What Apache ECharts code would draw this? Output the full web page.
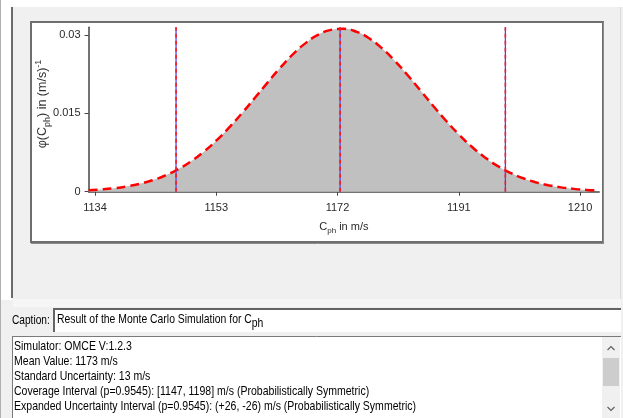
<!DOCTYPE html>
<html><head><meta charset="utf-8">
<script src="https://cdn.jsdelivr.net/npm/echarts@6/dist/echarts.min.js"></script>
<style>html,body{margin:0;padding:0;background:#f0f0f0}#c{width:623px;height:418px}</style>
</head><body><div id="c"></div>
<script>
// ---- data ----
const cphValues = [1133,1135,1137,1139,1141,1143,1145,1147,1149,1151,1153,1155,1157,1159,1161,1163,1165,1167,1169,1171,1173,1175,1177,1179,1181,1183,1185,1187,1189,1191,1193,1195,1197,1199,1201,1203,1205,1207,1209,1211,1212.5];
const density = [0.00027,0.00043,0.00067,0.00102,0.00151,0.00219,0.00310,0.00429,0.00578,0.00761,0.00978,0.01226,0.01499,0.01789,0.02084,0.02369,0.02628,0.02845,0.03006,0.03099,0.03118,0.03061,0.02933,0.02742,0.02503,0.02229,0.01937,0.01642,0.01359,0.01098,0.00865,0.00665,0.00499,0.00366,0.00262,0.00182,0.00124,0.00083,0.00054,0.00034,0.00026];
const intervalLines = [1146.7, 1172.4, 1198.3];
const xTicks = [1134, 1153, 1172, 1191, 1210];
const yTicks = [0, 0.015, 0.03];
const xRange = [1133, 1213];
const yRange = [0, 0.0315];
const xTitle = ['C', 'ph', ' in m/s'];
const yTitle = ['φ(C', 'ph', ') in (m/s)', '-1'];
const captionText = 'Result of the Monte Carlo Simulation for C';
const captionSub = 'ph';
const infoLines = [
  'Simulator: OMCE V:1.2.3',
  'Mean Value: 1173 m/s',
  'Standard Uncertainty: 13 m/s',
  'Coverage Interval (p=0.9545): [1147, 1198] m/s (Probabilistically Symmetric)',
  'Expanded Uncertainty Interval (p=0.9545): (+26, -26) m/s (Probabilistically Symmetric)'
];

const FONT = '"Liberation Sans", Arial, sans-serif';
const chart = echarts.init(document.getElementById('c'), null, {renderer: 'canvas'});

const curve = cphValues.map((x, i) => [x, density[i]]);
const lineSeries = [];
intervalLines.forEach(v => {
  const pts = [[v, yRange[0]], [v, yRange[1]]];
  lineSeries.push({type: 'line', data: pts, symbol: 'none', silent: true, z: 5,
    lineStyle: {color: '#4040ff', width: 1.2}});
  lineSeries.push({type: 'line', data: pts, symbol: 'none', silent: true, z: 6,
    lineStyle: {color: '#ff1a1a', width: 1.6, type: [4, 3]}});
});

const graphics = [
  // window chrome
  {type: 'rect', z: -20, shape: {x: 0, y: 0, width: 623, height: 7}, style: {fill: '#ffffff'}},
  {type: 'rect', z: -20, shape: {x: 0, y: 0, width: 12, height: 300}, style: {fill: '#ffffff'}},
  {type: 'line', z: -19, shape: {x1: 0.5, y1: 0, x2: 0.5, y2: 418}, style: {stroke: '#b0b0b0', lineWidth: 1}},
  {type: 'line', z: -19, shape: {x1: 12, y1: 7, x2: 12, y2: 298}, style: {stroke: '#6a6a6a', lineWidth: 2}},
  {type: 'line', z: -19, shape: {x1: 620.5, y1: 7, x2: 620.5, y2: 300}, style: {stroke: '#dcdcdc', lineWidth: 1}},
  {type: 'rect', z: -19, shape: {x: 13, y: 299, width: 608, height: 8}, style: {fill: '#f6f6f6'}},
  // plot box
  {type: 'rect', z: -10, shape: {x: 31, y: 22, width: 572, height: 220}, style: {fill: '#ffffff', stroke: '#6e6e6e', lineWidth: 2}},
  {type: 'line', z: -9, shape: {x1: 603.5, y1: 22, x2: 603.5, y2: 243}, style: {stroke: '#8a8a8a', lineWidth: 1}},
  {type: 'line', z: -9, shape: {x1: 31, y1: 243.5, x2: 604, y2: 243.5}, style: {stroke: '#8a8a8a', lineWidth: 1}},
  // y axis title (rotated)
  {type: 'text', z: 10, x: 43, y: 104, rotation: Math.PI / 2,
    style: {text: '{n|' + yTitle[0] + '}{s|' + yTitle[1] + '}{n|' + yTitle[2] + '}{p|' + yTitle[3] + '}',
      align: 'center', verticalAlign: 'middle', fill: '#333',
      rich: {n: {fontSize: 12.5, fontFamily: FONT, fill: '#333', lineHeight: 18, verticalAlign: 'middle'},
             s: {fontSize: 9, fontFamily: FONT, fill: '#333', lineHeight: 18, verticalAlign: 'bottom'},
             p: {fontSize: 9, fontFamily: FONT, fill: '#333', lineHeight: 18, verticalAlign: 'top'}}}},
  // caption
  {type: 'text', z: 1, x: 12, y: 320, scaleX: 0.78, originX: 0, style: {text: 'Caption:', font: '13px ' + FONT, fill: '#000', verticalAlign: 'middle'}},
  {type: 'rect', z: -5, shape: {x: 53, y: 308, width: 568, height: 24}, style: {fill: '#ffffff'}},
  {type: 'line', z: -4, shape: {x1: 53, y1: 309, x2: 621, y2: 309}, style: {stroke: '#646464', lineWidth: 2}},
  {type: 'line', z: -4, shape: {x1: 54, y1: 308, x2: 54, y2: 332}, style: {stroke: '#646464', lineWidth: 2}},
  {type: 'text', z: 1, x: 57, y: 319, scaleX: 0.8, originX: 0,
    style: {text: '{n|' + captionText + '}{s|' + captionSub + '}', verticalAlign: 'middle', fill: '#000',
      rich: {n: {fontSize: 13, fontFamily: FONT, fill: '#000', lineHeight: 22, verticalAlign: 'middle'},
             s: {fontSize: 13, fontFamily: FONT, fill: '#000', lineHeight: 22, verticalAlign: 'bottom'}}}},
  // info text box
  {type: 'rect', z: -5, shape: {x: 12, y: 336, width: 609, height: 82}, style: {fill: '#ffffff'}},
  {type: 'line', z: -4, shape: {x1: 12, y1: 336.5, x2: 621, y2: 336.5}, style: {stroke: '#7a7a7a', lineWidth: 1}},
  {type: 'line', z: -4, shape: {x1: 12.5, y1: 336, x2: 12.5, y2: 418}, style: {stroke: '#7a7a7a', lineWidth: 1}},
  // scrollbar
  {type: 'rect', z: -4, shape: {x: 602, y: 337, width: 18, height: 81}, style: {fill: '#f0f0f0'}},
  {type: 'rect', z: -3, shape: {x: 603, y: 358, width: 16, height: 28}, style: {fill: '#cdcdcd'}},
  {type: 'polyline', z: -3, shape: {points: [[607.5, 350], [611, 346.5], [614.5, 350]]}, style: {stroke: '#606060', lineWidth: 1.2, fill: null}},
  {type: 'polyline', z: -3, shape: {points: [[607.5, 407], [611, 410.5], [614.5, 407]]}, style: {stroke: '#606060', lineWidth: 1.2, fill: null}}
];
infoLines.forEach((t, i) => {
  graphics.push({type: 'text', z: 1, x: 14, y: 346 + i * 15.2, scaleX: 0.81, originX: 0,
    style: {text: t, font: '13px ' + FONT, fill: '#000', verticalAlign: 'middle'}});
});

const axisTextStyle = {color: '#2a2a2a', fontFamily: FONT, fontSize: 11};
chart.setOption({
  backgroundColor: '#f0f0f0',
  animation: false,
  grid: {left: 88.6, right: 23.8, top: 27.2, bottom: 226.3, containLabel: false},
  xAxis: {
    type: 'value', min: xRange[0], max: xRange[1],
    name: '{n|' + xTitle[0] + '}{s|' + xTitle[1] + '}{n|' + xTitle[2] + '}', nameLocation: 'middle', nameGap: 27,
    nameTextStyle: {rich: {
      n: {fontSize: 11, fontFamily: FONT, color: '#2a2a2a', lineHeight: 16, verticalAlign: 'middle'},
      s: {fontSize: 8, fontFamily: FONT, color: '#2a2a2a', lineHeight: 16, verticalAlign: 'bottom'}}},
    axisLine: {show: true, onZero: false, lineStyle: {color: '#444', width: 1.5}},
    axisTick: {show: true, length: 4, inside: false, customValues: xTicks, lineStyle: {color: '#444'}},
    axisLabel: Object.assign({customValues: xTicks, margin: 11, formatter: v => String(v)}, axisTextStyle),
    splitLine: {show: false}
  },
  yAxis: {
    type: 'value', min: yRange[0], max: yRange[1],
    axisLine: {show: true, lineStyle: {color: '#444', width: 1.5}},
    axisTick: {show: true, length: 4, customValues: yTicks, lineStyle: {color: '#444'}},
    axisLabel: Object.assign({customValues: yTicks, margin: 8, formatter: v => String(v)}, axisTextStyle),
    splitLine: {show: false}
  },
  graphic: {elements: graphics},
  series: [
    {type: 'line', data: curve, symbol: 'none', smooth: true, z: 3, silent: true,
      areaStyle: {color: '#c0c0c0', opacity: 1},
      lineStyle: {color: '#ff0000', width: 2.5, type: [9, 5]}}
  ].concat(lineSeries)
});
</script></body></html>
